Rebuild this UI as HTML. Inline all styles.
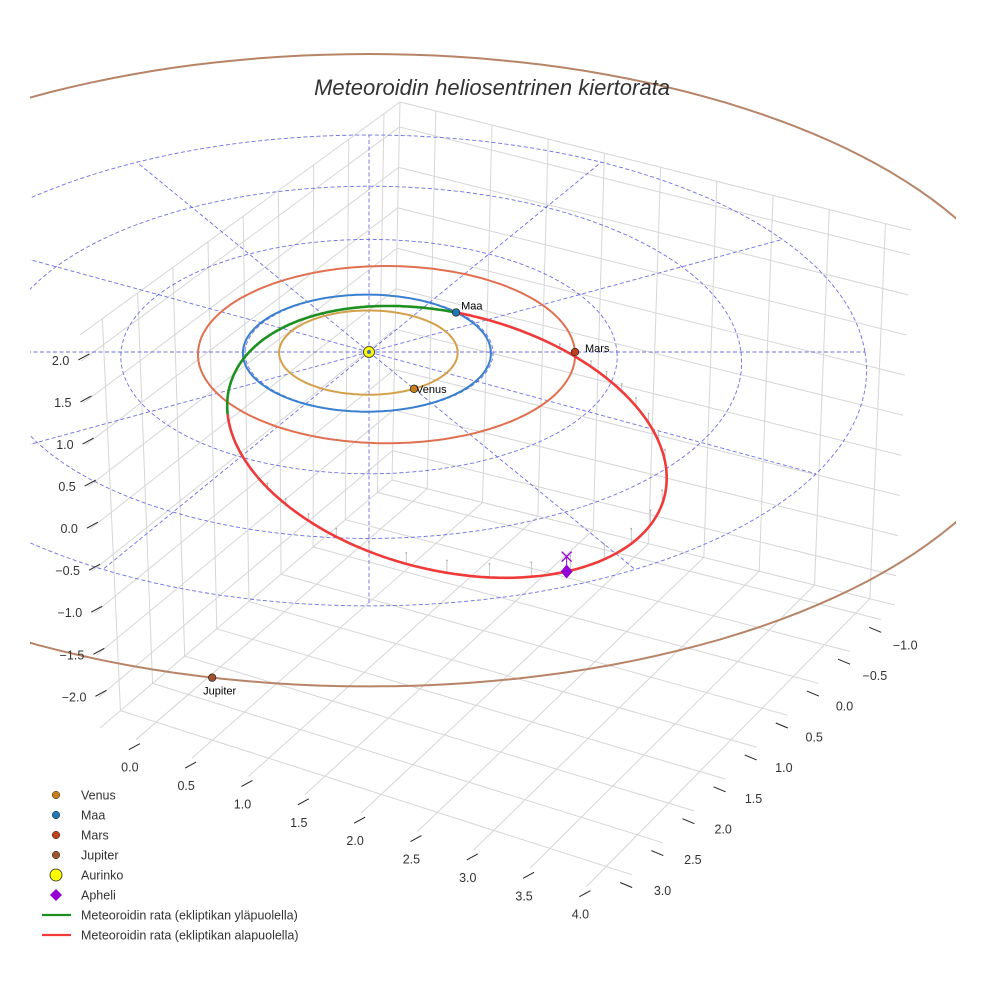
<!DOCTYPE html>
<html><head><meta charset="utf-8">
<style>
html,body{margin:0;padding:0;background:#fff;}
svg{display:block;font-family:"Liberation Sans",sans-serif;}
</style></head>
<body>
<svg id="chart" width="984" height="984" viewBox="0 0 984 984" xmlns="http://www.w3.org/2000/svg">
<defs><clipPath id="clip"><rect x="30" y="0" width="926" height="984"/></clipPath></defs>
<rect width="984" height="984" fill="#fff"/>
<g id="panes"></g>
<g id="plot" clip-path="url(#clip)"></g>
<g id="axes"></g>
<text x="492" y="95" text-anchor="middle" font-size="22" font-style="italic" fill="#333">Meteoroidin heliosentrinen kiertorata</text>
<g id="legend"></g>
</svg>
<script>
// ---- data ----
const planetNames = ["Venus","Maa","Mars","Jupiter"];
const planetRadii = [0.72, 1.0, 1.52, 5.4];
const planetEcc = [0.007, 0.017, 0.093, 0.048];
const planetPeri = [0, 0, 180, 90];
const planetAngles = [60, -43.9, 0, 102.8];
const orbitColors = ["#d4a04a","#3a80d0","#e07050","#b88468"];
const planetColors = ["#c87d1b","#1f77b4","#c0401b","#a0522d"];
const gridRings = [1,2,3,4];
const gridSpokes = [0,30,60,90,120,150,180,210,240,270,300,330];
const meteorP = [1.205];
const meteorE = [0.665];
const meteorOmega = [245.5];
const meteorNode = [-43.9];
const meteorIncl = [2.8];
const xTicks = ["0.0","0.5","1.0","1.5","2.0","2.5","3.0","3.5","4.0"];
const yTicks = ["−1.0","−0.5","0.0","0.5","1.0","1.5","2.0","2.5","3.0"];
const zTicks = ["2.0","1.5","1.0","0.5","0.0","−0.5","−1.0","−1.5","−2.0"];
const legendLabels = ["Venus","Maa","Mars","Jupiter","Aurinko","Apheli","Meteoroidin rata (ekliptikan yläpuolella)","Meteoroidin rata (ekliptikan alapuolella)"];

const NS="http://www.w3.org/2000/svg";
function mk(tag,attrs,parent){const e=document.createElementNS(NS,tag);for(const k in attrs)e.setAttribute(k,attrs[k]);parent.appendChild(e);return e;}
const CX=369,CY=352,KX=124,KY=58.5,KZ=84,Q=0.0196;
function P(X,Y,Z){const d=1-Q*Y;return [CX+KX*X/d, CY+KY*Y/d-KZ*(Z||0)/d];}
function rad(a){return a*Math.PI/180;}
function pts(arr){return arr.map(p=>p[0].toFixed(1)+","+p[1].toFixed(1)).join(" ");}

const LT=[80,335],LB=[100,728],BT=[400,102],BB=[392,480],RT=[911,230],RB=[895,605],FB=[612,895];
function lerp(a,b,t){return [a[0]+(b[0]-a[0])*t,a[1]+(b[1]-a[1])*t];}
const panes=document.getElementById('panes');
const tickFrac=i=>0.07+i*0.11;
const tickFracZ=i=>0.066+i*0.107;
function gl(a,b,name){const l=mk('line',{x1:a[0],y1:a[1],x2:b[0],y2:b[1],stroke:'#d6d6d6','stroke-width':1},panes);
 }
for(let i=0;i<9;i++){
 const t=tickFrac(i);
 gl(lerp(LT,BT,t),lerp(LB,BB,t),'left-wall-gridline');
 gl(lerp(BT,RT,t),lerp(BB,RB,t),'right-wall-gridline');
 const tz=tickFracZ(i);
 const zl=lerp(LT,LB,tz), zb=lerp(BT,BB,tz), zr=lerp(RT,RB,tz);
 gl(zl,zb,'left-wall-z-gridline'); gl(zb,zr,'right-wall-z-gridline');
 gl(lerp(LB,FB,t),lerp(BB,RB,t),'floor-x-gridline');
 gl(lerp(LB,BB,t),lerp(FB,RB,t),'floor-y-gridline');
}
[[LT,BT],[BT,RT],[BT,BB],[LB,BB],[BB,RB]].forEach(e=>gl(e[0],e[1],'pane-edge'));

const axes=document.getElementById('axes');
function tick(a,dx,dy){mk('line',{x1:a[0],y1:a[1],x2:a[0]+dx,y2:a[1]+dy,stroke:'#222','stroke-width':1},axes);}
zTicks.forEach((s,i)=>{const p=lerp(LT,LB,tickFracZ(i));
 tick([p[0]+8,p[1]-7],-11,6);
 const t=mk('text',{x:p[0]-12,y:p[1]+4,'text-anchor':'end','font-size':12.5,fill:'#333'},axes);t.textContent=s;
 });
xTicks.forEach((s,i)=>{const p=lerp(LB,FB,tickFrac(i));
 tick([p[0]+4,p[1]+4],-11,6);
 const t=mk('text',{x:p[0]-6,y:p[1]+32,'text-anchor':'middle','font-size':12.5,fill:'#333'},axes);t.textContent=s;
 });
yTicks.forEach((s,i)=>{const p=lerp(RB,FB,tickFrac(i));
 tick([p[0]-6,p[1]+2],12,5);
 const t=mk('text',{x:p[0]+30+i*0.8,y:p[1]+24-i*1.2,'text-anchor':'middle','font-size':12.5,fill:'#333'},axes);t.textContent=s;
 });

const plot=document.getElementById('plot');
function circlePts(r,z){const a=[];for(let k=0;k<=360;k+=2){a.push(P(r*Math.cos(rad(k)),r*Math.sin(rad(k)),z||0));}return a;}
function orbitR(i,th){const a=planetRadii[i],e=planetEcc[i];return a*(1-e*e)/(1+e*Math.cos(rad(th-planetPeri[i])));}
function orbitPts(i){const a=[];for(let k=0;k<=360;k+=2){const r=orbitR(i,k);a.push(P(r*Math.cos(rad(k)),r*Math.sin(rad(k)),0));}return a;}
gridRings.forEach(r=>{const e=mk('polyline',{points:pts(circlePts(r)),fill:'none',stroke:'#5555e0','stroke-width':0.9,'stroke-dasharray':'4 2.5',opacity:0.85},plot);
 });
const rMax=gridRings[gridRings.length-1];
gridSpokes.forEach(a=>{const p=P(rMax*Math.cos(rad(a)),rMax*Math.sin(rad(a)));
 const e=mk('line',{x1:CX,y1:CY,x2:p[0],y2:p[1],stroke:'#5555e0','stroke-width':0.9,'stroke-dasharray':'4 2.5',opacity:0.85},plot);
 });
const p0=meteorP[0],ec=meteorE[0],om=meteorOmega[0],nd=meteorNode[0],inc=meteorIncl[0];
function mpos(th){const r=p0/(1+ec*Math.cos(rad(th-om)));const X=r*Math.cos(rad(th)),Y=r*Math.sin(rad(th));const Z=-r*Math.sin(rad(th-nd))*Math.sin(rad(inc));return [X,Y,Z];}
for(let th=0;th<360;th+=5){const m=mpos(th);if(m[2]<-0.04){const a=P(m[0],m[1],0),b=P(m[0],m[1],m[2]);
 const e=mk('line',{x1:a[0],y1:a[1],x2:b[0],y2:b[1],stroke:'#bbb','stroke-width':0.8},plot);
 
 mk('circle',{cx:a[0],cy:a[1],r:0.9,fill:'#aaa'},plot);}}
planetRadii.forEach((r,i)=>{const e=mk('polyline',{points:pts(orbitPts(i)),fill:'none',stroke:orbitColors[i],'stroke-width':2},plot);
 });
let seg=[],segUp=null;
function flush(){if(seg.length>1){const e=mk('polyline',{points:pts(seg),fill:'none',stroke:segUp?'#1e9020':'#f03a3a','stroke-width':2.6,'stroke-linejoin':'round'},plot);
 }}
for(let th=0;th<=360;th+=1){const m=mpos(th);const up=m[2]>=0;const s=P(m[0],m[1],m[2]);
 if(segUp===null)segUp=up;
 if(up!==segUp){seg.push(s);flush();seg=[s];segUp=up;}else seg.push(s);}
flush();
const apTh=om+180, ap=mpos(apTh);
const apE=P(ap[0],ap[1],0), apS=P(ap[0],ap[1],ap[2]);
let e1=mk('line',{x1:apE[0],y1:apE[1],x2:apS[0],y2:apS[1],stroke:'#9400d3','stroke-width':1},plot);

let e2=mk('path',{d:`M${apE[0]-5},${apE[1]-5}L${apE[0]+5},${apE[1]+5}M${apE[0]-5},${apE[1]+5}L${apE[0]+5},${apE[1]-5}`,stroke:'#9400d3','stroke-width':1.3},plot);

let e3=mk('path',{d:`M${apS[0]},${apS[1]-7}L${apS[0]+6},${apS[1]}L${apS[0]},${apS[1]+7}L${apS[0]-6},${apS[1]}Z`,fill:'#9400d3'},plot);

const labelOff=[[2,4],[5,-3],[10,0],[-9,17]];
planetNames.forEach((n,i)=>{const r=orbitR(i,planetAngles[i]);const p=P(r*Math.cos(rad(planetAngles[i])),r*Math.sin(rad(planetAngles[i])));
 const c=mk('circle',{cx:p[0],cy:p[1],r:3.8,fill:planetColors[i],stroke:'#222','stroke-width':0.7},plot);
 
 const t=mk('text',{x:p[0]+labelOff[i][0],y:p[1]+labelOff[i][1],'font-size':11,fill:'#000'},plot);t.textContent=n;
 });
let sun=mk('circle',{cx:CX,cy:CY,r:5.5,fill:'#ffff00',stroke:'#222','stroke-width':0.8},plot);

mk('circle',{cx:CX,cy:CY,r:2,fill:'#3a70c0'},plot);

const lg=document.getElementById('legend');
legendLabels.forEach((s,i)=>{const y=795+i*20;let m;
 if(i<4){m=mk('circle',{cx:56,cy:y,r:3.8,fill:planetColors[i],stroke:'#222','stroke-width':0.5},lg);}
 else if(i===4){m=mk('circle',{cx:56,cy:y,r:6,fill:'#ffff00',stroke:'#222','stroke-width':0.8},lg);}
 else if(i===5){m=mk('path',{d:`M56,${y-6}L62,${y}L56,${y+6}L50,${y}Z`,fill:'#9400d3'},lg);}
 else{m=mk('line',{x1:42,y1:y,x2:71,y2:y,stroke:i===6?'#1e9020':'#f03a3a','stroke-width':2.2},lg);}
 
 const t=mk('text',{x:81,y:y+4.5,'font-size':12.5,fill:'#333'},lg);t.textContent=s;
 });
</script>
</body></html>
